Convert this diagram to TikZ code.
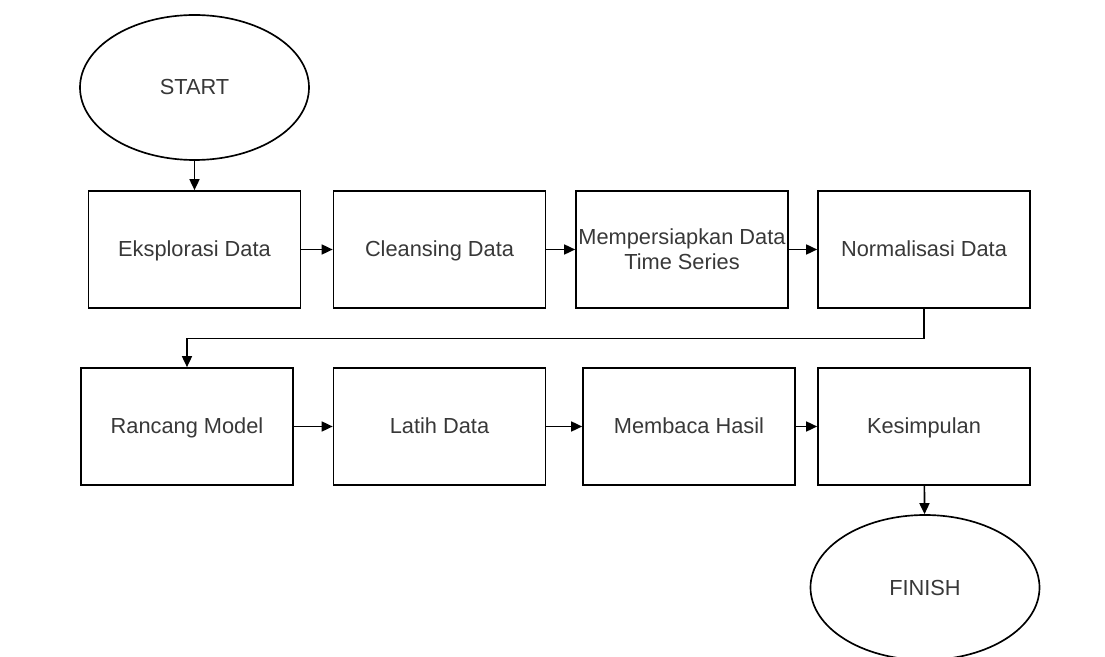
\documentclass[tikz,border=0pt]{standalone}
\usepackage{fontspec}
\setmainfont{Liberation Sans}
\usetikzlibrary{arrows.meta,shapes.geometric}

\begin{document}
\begin{tikzpicture}[
    x=1cm, y=1cm,
    process/.style={draw, line width=0.95pt, minimum width=4.24cm,
                    minimum height=2.34cm, align=center, inner sep=1pt,
                    text height=1.75ex, text depth=0.25ex,
                    font=\fontsize{12.4}{14.2}\selectfont, text=black!78},
    terminal/.style={draw, ellipse, line width=0.95pt, minimum width=4.58cm,
                     minimum height=2.9cm, inner sep=0pt,
                     font=\fontsize{12.4}{14.2}\selectfont, text=black!78},
    arr/.style={-{Triangle[length=0.22cm, width=0.2cm]}, line width=0.95pt}
  ]
    \useasboundingbox (0,0) rectangle (22.1,-13.14);

    \node[terminal] (start)   at (3.89,-1.75)  {START};
    \node[process]  (explore) at (3.89,-4.99)  {Eksplorasi Data};
    \node[process]  (cleanse) at (8.79,-4.99)  {Cleansing Data};
    \node[process, text height={}, text depth={}]
                    (prepare) at (13.64,-4.99) {Mempersiapkan Data\\Time Series};
    \node[process]  (normal)  at (18.48,-4.99) {Normalisasi Data};
    \node[process]  (design)  at (3.74,-8.53)  {Rancang Model};
    \node[process]  (train)   at (8.79,-8.53)  {Latih Data};
    \node[process]  (result)  at (13.78,-8.53) {Membaca Hasil};
    \node[process]  (concl)   at (18.48,-8.53) {Kesimpulan};
    \node[terminal] (finish)  at (18.5,-11.75) {FINISH};

    \coordinate (turn) at (0,-6.77);

    \draw[arr] (start)   -- (explore);
    \draw[arr] (explore) -- (cleanse);
    \draw[arr] (cleanse) -- (prepare);
    \draw[arr] (prepare) -- (normal);
    \draw[arr] (normal.south) |- (turn -| design.north) -- (design.north);
    \draw[arr] (design)  -- (train);
    \draw[arr] (train)   -- (result);
    \draw[arr] (result)  -- (concl);
    \draw[arr] (concl)   -- (finish);
  \end{tikzpicture}
\end{document}
